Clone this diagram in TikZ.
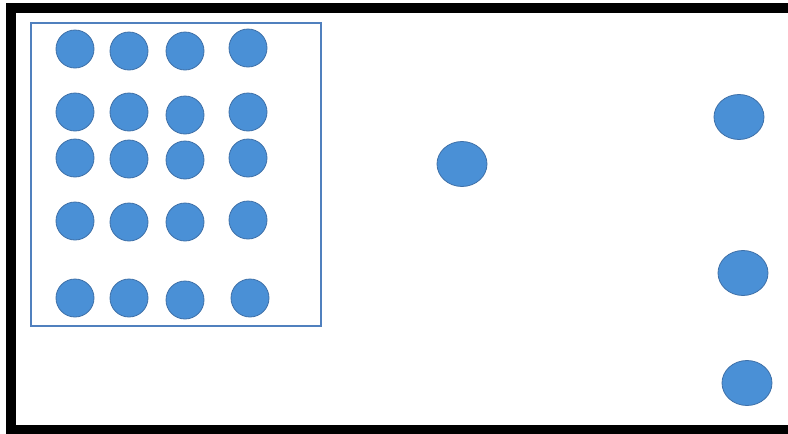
\documentclass[tikz,border=0pt]{standalone}
\usetikzlibrary{shapes.geometric}
\definecolor{dotfill}{RGB}{74,144,214}
\definecolor{dotline}{RGB}{62,112,168}
\definecolor{boxline}{RGB}{80,128,190}
\tikzset{
  dot/.style={ellipse, fill=dotfill, draw=dotline, line width=0.8pt, minimum width=38pt, minimum height=38pt, inner sep=0pt},
  bigdot/.style={ellipse, fill=dotfill, draw=dotline, line width=0.8pt, minimum width=50pt, minimum height=45pt, inner sep=0pt},
  frameline/.style={draw=black, line width=10pt},
  groupbox/.style={draw=boxline, line width=1.2pt}
}
\begin{document}
\begin{tikzpicture}[x=1pt,y=-1pt]
\useasboundingbox (0,0) rectangle (788,434);
\clip (0,0) rectangle (788,434);
\fill[white] (0,0) rectangle (788,434);
\draw[frameline] (800,8) -- (10.5,8) -- (10.5,430) -- (800,430);
\draw[groupbox] (31,23) rectangle (321,326);
% grid of dots
\node[dot] (a1) at (75,49) {};
\node[dot] (a2) at (129,51) {};
\node[dot] (a3) at (185,51) {};
\node[dot] (a4) at (248,48) {};
\node[dot] (b1) at (75,112) {};
\node[dot] (b2) at (129,112) {};
\node[dot] (b3) at (185,115) {};
\node[dot] (b4) at (248,112) {};
\node[dot] (c1) at (75,158) {};
\node[dot] (c2) at (129,159) {};
\node[dot] (c3) at (185,160) {};
\node[dot] (c4) at (248,158) {};
\node[dot] (d1) at (75,221) {};
\node[dot] (d2) at (129,222) {};
\node[dot] (d3) at (185,222) {};
\node[dot] (d4) at (248,220) {};
\node[dot] (e1) at (75,298) {};
\node[dot] (e2) at (129,298) {};
\node[dot] (e3) at (185,300) {};
\node[dot] (e4) at (250,298) {};
% loose dots
\node[bigdot] (m) at (462,164) {};
\node[bigdot] (r1) at (739,117) {};
\node[bigdot] (r2) at (743,273) {};
\node[bigdot] (r3) at (747,383) {};
\end{tikzpicture}
\end{document}
